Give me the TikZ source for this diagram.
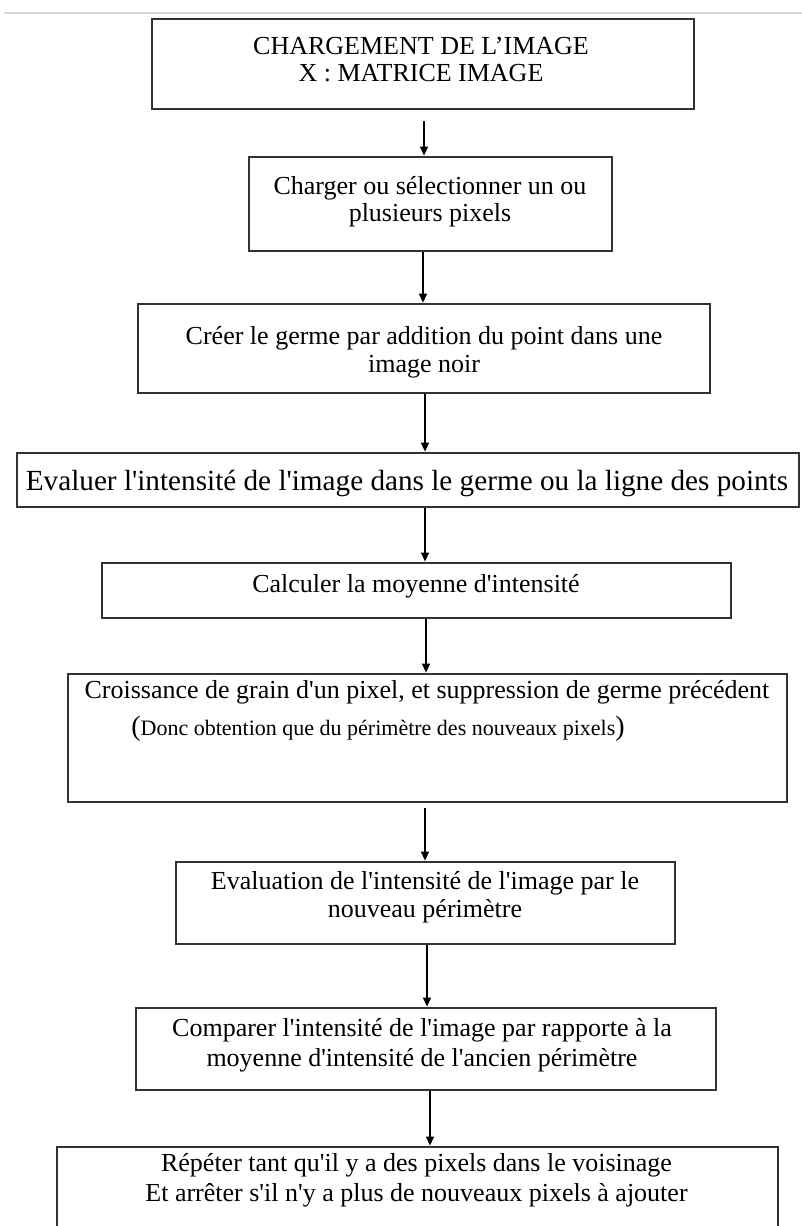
\documentclass[tikz,border=0pt]{standalone}
\usepackage{fontspec}
\setmainfont{Liberation Serif}
\usetikzlibrary{arrows.meta}
\definecolor{boxgray}{HTML}{333333}
\definecolor{rulegray}{HTML}{D6D6D6}
\newcommand{\qsg}{\textquotesingle}
\begin{document}
\begin{tikzpicture}[x=1pt,y=-1pt,
  stepbox/.style={draw=boxgray, line width=2.8pt, inner sep=0pt},
  lbl/.style={align=center, inner sep=0pt, text=black, font=\fontsize{26}{28}\selectfont},
  arr/.style={draw=black, line width=1.4pt, -{Triangle[length=9pt,width=8pt]}}]
\useasboundingbox (0,0) rectangle (802,1226);
\clip (0,0) rectangle (802,1226);
\fill[white] (0,0) rectangle (802,1226);

% thin rule along the top edge
\coordinate (ruleL) at (4,13);
\coordinate (ruleR) at (802,13);
\draw[rulegray, line width=2pt] (ruleL) -- (ruleR);

% step boxes
\node[stepbox, minimum width=542pt, minimum height=90pt]  (b1) at (423,64) {};
\node[stepbox, minimum width=363pt, minimum height=94pt]  (b2) at (430.5,204) {};
\node[stepbox, minimum width=572pt, minimum height=89pt]  (b3) at (424,348.5) {};
\node[stepbox, minimum width=782pt, minimum height=54pt]  (b4) at (408,480) {};
\node[stepbox, minimum width=629pt, minimum height=55pt]  (b5) at (416.5,590.5) {};
\node[stepbox, minimum width=719pt, minimum height=128pt] (b6) at (427.5,738) {};
\node[stepbox, minimum width=499pt, minimum height=82pt]  (b7) at (425.5,903) {};
\node[stepbox, minimum width=580pt, minimum height=82pt]  (b8) at (426,1049) {};
\node[stepbox, minimum width=721pt, minimum height=103pt] (b9) at (417.5,1198.5) {};

% labels
\node[lbl, font=\fontsize{26}{27}\selectfont] (t1) at (421,59.5) {CHARGEMENT DE L’IMAGE\\X : MATRICE IMAGE};
\node[lbl, font=\fontsize{26}{27}\selectfont] (t2) at (430,202) {Charger ou sélectionner un ou\\plusieurs pixels};
\node[lbl] (t3) at (424,352) {Créer le germe par addition du point dans une\\image noir};
\node[lbl, font=\fontsize{29.2}{30}\selectfont] (t4) at (407,483) {Evaluer l\qsg intensité de l\qsg image dans le germe ou la ligne des points};
\node[lbl] (t5) at (416,586.5) {Calculer la moyenne d\qsg intensité};
\node[lbl] (t6a) at (427,692.5) {Croissance de grain d\qsg un pixel, et suppression de germe précédent};
\node[lbl, font=\fontsize{22}{24}\selectfont] (t6b) at (378,729) {{\fontsize{28}{28}\selectfont(}Donc obtention que du périmètre des nouveaux pixels{\fontsize{28}{28}\selectfont)}};
\node[lbl] (t7) at (425,897) {Evaluation de l\qsg intensité de l\qsg image par le\\nouveau périmètre};
\node[lbl, font=\fontsize{26}{30}\selectfont] (t8) at (422,1045) {Comparer l\qsg intensité de l\qsg image par rapporte à la\\moyenne d\qsg intensité de l\qsg ancien périmètre};
\node[lbl, font=\fontsize{26}{30}\selectfont] (t9) at (416.5,1180.5) {Répéter tant qu\qsg il y a des pixels dans le voisinage\\Et arrêter s\qsg il n\qsg y a plus de nouveaux pixels à ajouter};

% connectors
\draw[arr] ([yshift=-11pt]b1.south -| 424,0) -- (b2.north -| 424,0);
\draw[arr] (b2.south -| 423,0) -- (b3.north -| 423,0);
\draw[arr] (b3.south -| 425,0) -- (b4.north -| 425,0);
\draw[arr] (b4.south -| 425,0) -- (b5.north -| 425,0);
\draw[arr] (b5.south -| 426,0) -- (b6.north -| 426,0);
\draw[arr] ([yshift=-5pt]b6.south -| 425,0) -- (b7.north -| 425,0);
\draw[arr] (b7.south -| 427,0) -- (b8.north -| 427,0);
\draw[arr] (b8.south -| 430,0) -- (b9.north -| 430,0);
\end{tikzpicture}
\end{document}
